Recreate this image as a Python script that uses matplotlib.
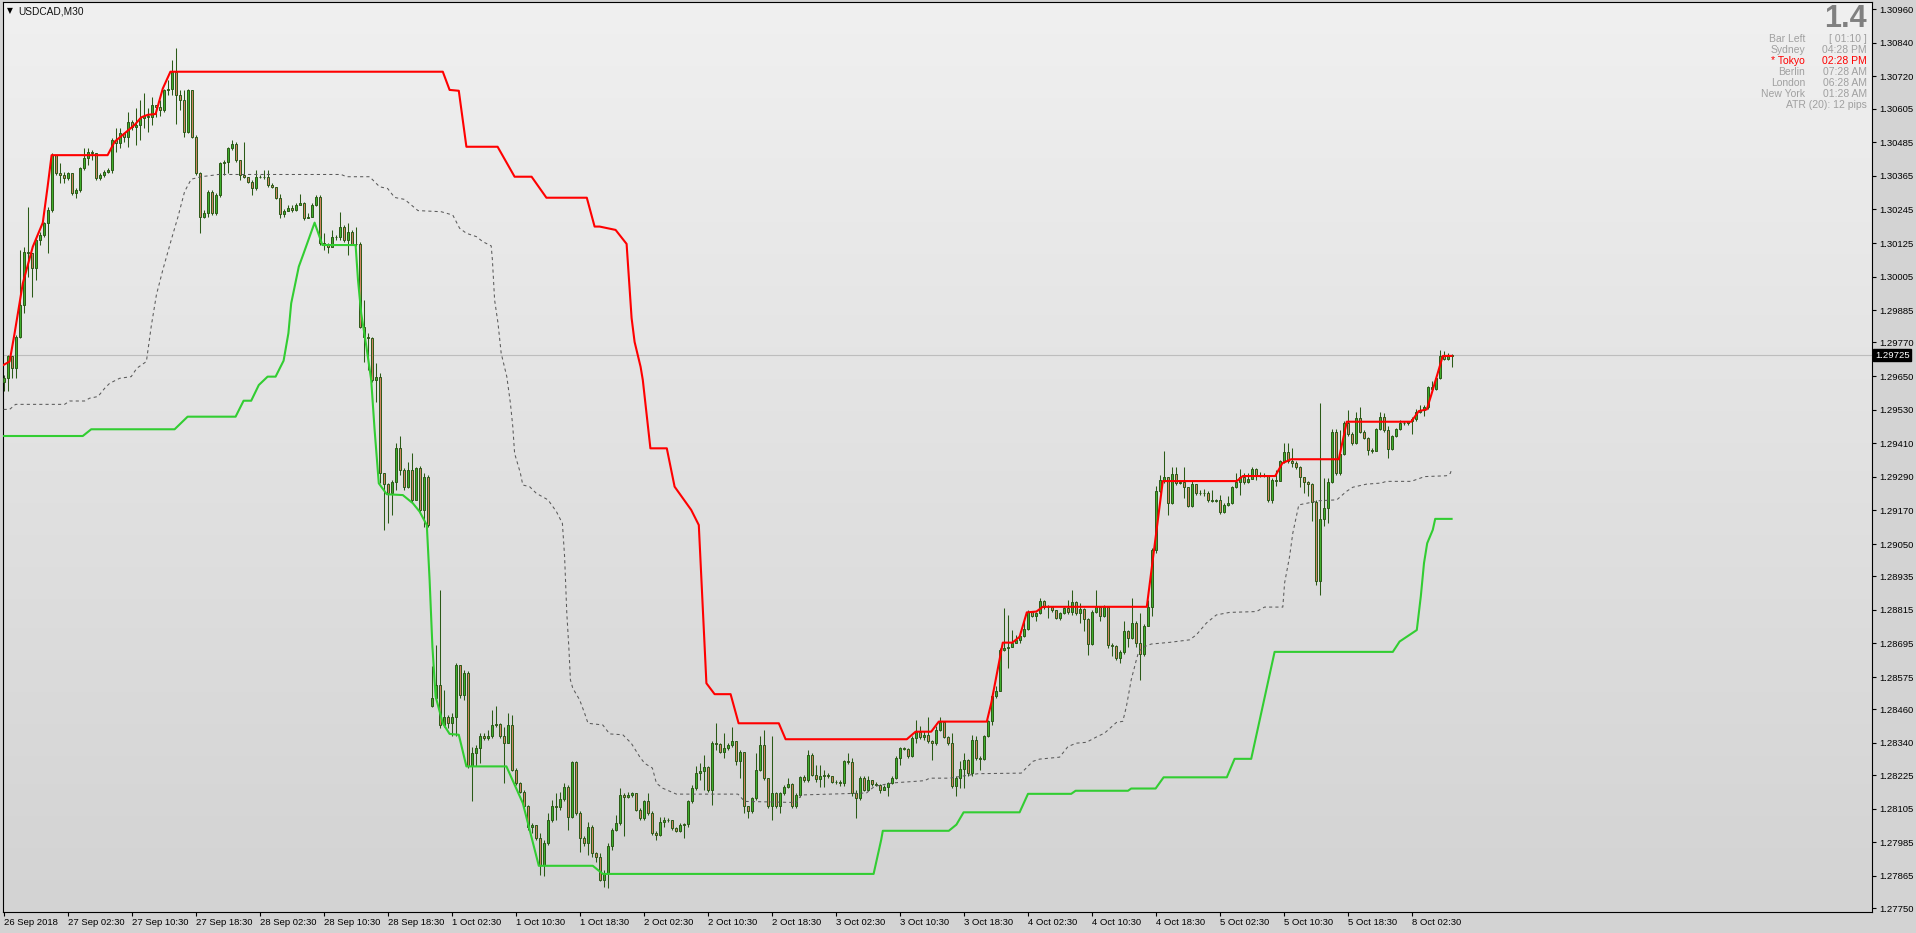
import numpy as np
import matplotlib
matplotlib.use('Agg')
import matplotlib.pyplot as plt
from matplotlib.colors import LinearSegmentedColormap
from matplotlib import transforms

plt.rcParams['font.family'] = ['Liberation Sans', 'DejaVu Sans']

symbol = 'USDCAD,M30'
current_price = 1.29725
first_open = 1.29630
gap_opens = {107: 1.28470}  # monday open after the weekend

closes = [
    1.29642, 1.29720, 1.29678, 1.29791, 1.29904, 1.30094, 1.30088, 1.30035, 1.30136, 1.30154,
    1.30195, 1.30243, 1.30439, 1.30374, 1.30368, 1.30356, 1.30374, 1.30303, 1.30315, 1.30392,
    1.30428, 1.30451, 1.30445, 1.30356, 1.30368, 1.30380, 1.30386, 1.30493, 1.30481, 1.30517,
    1.30503, 1.30558, 1.30538, 1.30547, 1.30570, 1.30579, 1.30576, 1.30618, 1.30612, 1.30600,
    1.30672, 1.30674, 1.30737, 1.30654, 1.30636, 1.30523, 1.30672, 1.30505, 1.30374, 1.30219,
    1.30231, 1.30309, 1.30231, 1.30297, 1.30410, 1.30416, 1.30463, 1.30479, 1.30422, 1.30368,
    1.30362, 1.30344, 1.30320, 1.30362, 1.30360, 1.30362, 1.30332, 1.30326, 1.30285, 1.30229,
    1.30241, 1.30249, 1.30243, 1.30261, 1.30269, 1.30213, 1.30219, 1.30261, 1.30288, 1.30124,
    1.30122, 1.30112, 1.30148, 1.30146, 1.30181, 1.30136, 1.30166, 1.30122, 1.30122, 1.29827,
    1.29791, 1.29785, 1.29636, 1.29648, 1.29303, 1.29265, 1.29231, 1.29273, 1.29392, 1.29315,
    1.29255, 1.29315, 1.29208, 1.29321, 1.29172, 1.29291, 1.29118, 1.28500, 1.28547, 1.28404,
    1.28434, 1.28410, 1.28434, 1.28619, 1.28511, 1.28589, 1.28256, 1.28303, 1.28321, 1.28363,
    1.28357, 1.28365, 1.28404, 1.28407, 1.28363, 1.28341, 1.28404, 1.28244, 1.28196, 1.28166,
    1.28113, 1.28041, 1.28047, 1.27999, 1.27905, 1.27982, 1.28065, 1.28113, 1.28110, 1.28139,
    1.28182, 1.28077, 1.28270, 1.28089, 1.27999, 1.27982, 1.28041, 1.27946, 1.27934, 1.27851,
    1.27875, 1.27970, 1.28030, 1.28053, 1.28154, 1.28148, 1.28154, 1.28160, 1.28101, 1.28071,
    1.28131, 1.28089, 1.28018, 1.28012, 1.28059, 1.28065, 1.28063, 1.28035, 1.28027, 1.28047,
    1.28050, 1.28131, 1.28178, 1.28234, 1.28238, 1.28253, 1.28172, 1.28339, 1.28336, 1.28309,
    1.28321, 1.28333, 1.28348, 1.28274, 1.28309, 1.28113, 1.28095, 1.28143, 1.28244, 1.28333,
    1.28214, 1.28113, 1.28160, 1.28113, 1.28160, 1.28184, 1.28194, 1.28113, 1.28154, 1.28218,
    1.28208, 1.28297, 1.28226, 1.28210, 1.28220, 1.28226, 1.28220, 1.28202, 1.28199, 1.28197,
    1.28274, 1.28270, 1.28161, 1.28143, 1.28214, 1.28173, 1.28206, 1.28194, 1.28190, 1.28173,
    1.28182, 1.28197, 1.28214, 1.28286, 1.28321, 1.28318, 1.28292, 1.28357, 1.28379, 1.28361,
    1.28369, 1.28345, 1.28339, 1.28387, 1.28413, 1.28361, 1.28339, 1.28185, 1.28214, 1.28247,
    1.28280, 1.28232, 1.28351, 1.28286, 1.28282, 1.28363, 1.28417, 1.28506, 1.28527, 1.28673,
    1.28678, 1.28684, 1.28696, 1.28708, 1.28720, 1.28746, 1.28806, 1.28794, 1.28803, 1.28845,
    1.28825, 1.28827, 1.28813, 1.28786, 1.28803, 1.28821, 1.28806, 1.28843, 1.28803, 1.28818,
    1.28782, 1.28694, 1.28809, 1.28825, 1.28792, 1.28827, 1.28690, 1.28687, 1.28643, 1.28663,
    1.28738, 1.28714, 1.28768, 1.28696, 1.28658, 1.28758, 1.28827, 1.29029, 1.29241, 1.29280,
    1.29289, 1.29196, 1.29301, 1.29268, 1.29270, 1.29253, 1.29187, 1.29265, 1.29232, 1.29234,
    1.29233, 1.29206, 1.29205, 1.29206, 1.29163, 1.29190, 1.29196, 1.29253, 1.29273, 1.29289,
    1.29270, 1.29284, 1.29318, 1.29294, 1.29296, 1.29295, 1.29208, 1.29280, 1.29277, 1.29345,
    1.29378, 1.29345, 1.29341, 1.29325, 1.29289, 1.29272, 1.29265, 1.29202, 1.28917, 1.29139,
    1.29178, 1.29270, 1.29452, 1.29303, 1.29372, 1.29482, 1.29444, 1.29410, 1.29500, 1.29452,
    1.29428, 1.29387, 1.29384, 1.29460, 1.29503, 1.29458, 1.29389, 1.29437, 1.29460, 1.29482,
    1.29484, 1.29488, 1.29496, 1.29522, 1.29529, 1.29539, 1.29610, 1.29603, 1.29642, 1.29722,
    1.29710, 1.29722, 1.29725,
]

highs = [
    1.29654, 1.29725, 1.29708, 1.29797, 1.30100, 1.30112, 1.30255, 1.30065, 1.30148, 1.30166,
    1.30201, 1.30255, 1.30445, 1.30439, 1.30410, 1.30380, 1.30380, 1.30374, 1.30320, 1.30398,
    1.30463, 1.30463, 1.30457, 1.30422, 1.30374, 1.30386, 1.30392, 1.30499, 1.30535, 1.30535,
    1.30511, 1.30594, 1.30564, 1.30606, 1.30636, 1.30660, 1.30606, 1.30648, 1.30618, 1.30636,
    1.30677, 1.30707, 1.30779, 1.30820, 1.30672, 1.30672, 1.30677, 1.30672, 1.30511, 1.30380,
    1.30243, 1.30315, 1.30315, 1.30303, 1.30416, 1.30422, 1.30469, 1.30493, 1.30487, 1.30422,
    1.30487, 1.30362, 1.30350, 1.30386, 1.30368, 1.30386, 1.30386, 1.30341, 1.30326, 1.30300,
    1.30245, 1.30261, 1.30261, 1.30267, 1.30300, 1.30273, 1.30231, 1.30267, 1.30297, 1.30297,
    1.30160, 1.30124, 1.30172, 1.30154, 1.30237, 1.30190, 1.30195, 1.30172, 1.30184, 1.30130,
    1.29922, 1.29803, 1.29791, 1.29696, 1.29660, 1.29273, 1.29267, 1.29279, 1.29410, 1.29436,
    1.29321, 1.29344, 1.29374, 1.29327, 1.29329, 1.29303, 1.29297, 1.28613, 1.28690, 1.28886,
    1.28529, 1.28440, 1.28446, 1.28625, 1.28619, 1.28601, 1.28595, 1.28327, 1.28333, 1.28375,
    1.28375, 1.28387, 1.28458, 1.28470, 1.28410, 1.28398, 1.28446, 1.28440, 1.28250, 1.28202,
    1.28172, 1.28119, 1.28053, 1.28030, 1.28018, 1.27994, 1.28089, 1.28137, 1.28160, 1.28166,
    1.28196, 1.28190, 1.28274, 1.28274, 1.28095, 1.28006, 1.28059, 1.28047, 1.27952, 1.27946,
    1.27887, 1.27982, 1.28035, 1.28083, 1.28178, 1.28160, 1.28166, 1.28166, 1.28160, 1.28107,
    1.28137, 1.28160, 1.28095, 1.28024, 1.28077, 1.28077, 1.28071, 1.28065, 1.28041, 1.28053,
    1.28053, 1.28137, 1.28190, 1.28256, 1.28267, 1.28297, 1.28256, 1.28345, 1.28410, 1.28339,
    1.28375, 1.28339, 1.28398, 1.28345, 1.28315, 1.28309, 1.28113, 1.28148, 1.28303, 1.28363,
    1.28387, 1.28214, 1.28363, 1.28166, 1.28166, 1.28190, 1.28214, 1.28196, 1.28160, 1.28222,
    1.28226, 1.28315, 1.28303, 1.28261, 1.28261, 1.28244, 1.28232, 1.28223, 1.28208, 1.28206,
    1.28280, 1.28304, 1.28286, 1.28173, 1.28220, 1.28220, 1.28220, 1.28208, 1.28202, 1.28194,
    1.28190, 1.28202, 1.28223, 1.28292, 1.28327, 1.28325, 1.28321, 1.28363, 1.28423, 1.28399,
    1.28381, 1.28434, 1.28349, 1.28399, 1.28434, 1.28417, 1.28366, 1.28375, 1.28220, 1.28274,
    1.28304, 1.28282, 1.28369, 1.28363, 1.28292, 1.28369, 1.28423, 1.28512, 1.28542, 1.28678,
    1.28821, 1.28797, 1.28744, 1.28726, 1.28738, 1.28774, 1.28815, 1.28809, 1.28809, 1.28857,
    1.28851, 1.28833, 1.28830, 1.28815, 1.28809, 1.28827, 1.28851, 1.28887, 1.28845, 1.28839,
    1.28821, 1.28786, 1.28815, 1.28887, 1.28830, 1.28833, 1.28830, 1.28696, 1.28690, 1.28670,
    1.28774, 1.28744, 1.28857, 1.28774, 1.28803, 1.28765, 1.28851, 1.29035, 1.29256, 1.29297,
    1.29381, 1.29291, 1.29327, 1.29327, 1.29280, 1.29327, 1.29250, 1.29274, 1.29249, 1.29244,
    1.29246, 1.29238, 1.29244, 1.29211, 1.29226, 1.29196, 1.29220, 1.29258, 1.29303, 1.29318,
    1.29303, 1.29303, 1.29325, 1.29321, 1.29309, 1.29303, 1.29296, 1.29286, 1.29315, 1.29351,
    1.29410, 1.29410, 1.29393, 1.29345, 1.29330, 1.29291, 1.29277, 1.29268, 1.29208, 1.29553,
    1.29285, 1.29285, 1.29460, 1.29460, 1.29458, 1.29491, 1.29529, 1.29452, 1.29523, 1.29541,
    1.29458, 1.29434, 1.29393, 1.29464, 1.29520, 1.29518, 1.29470, 1.29440, 1.29464, 1.29494,
    1.29491, 1.29491, 1.29503, 1.29532, 1.29547, 1.29547, 1.29615, 1.29631, 1.29648, 1.29744,
    1.29741, 1.29732, 1.29729,
]

lows = [
    1.29595, 1.29595, 1.29642, 1.29642, 1.29785, 1.29874, 1.30005, 1.29934, 1.29993, 1.30118,
    1.30148, 1.30088, 1.30237, 1.30368, 1.30338, 1.30338, 1.30350, 1.30297, 1.30285, 1.30309,
    1.30386, 1.30404, 1.30422, 1.30350, 1.30350, 1.30362, 1.30374, 1.30374, 1.30451, 1.30463,
    1.30487, 1.30469, 1.30529, 1.30475, 1.30493, 1.30535, 1.30523, 1.30547, 1.30576, 1.30579,
    1.30594, 1.30654, 1.30654, 1.30552, 1.30600, 1.30505, 1.30517, 1.30499, 1.30368, 1.30162,
    1.30213, 1.30219, 1.30225, 1.30225, 1.30291, 1.30368, 1.30374, 1.30457, 1.30416, 1.30350,
    1.30356, 1.30338, 1.30297, 1.30315, 1.30356, 1.30353, 1.30326, 1.30320, 1.30281, 1.30213,
    1.30219, 1.30241, 1.30237, 1.30241, 1.30261, 1.30207, 1.30213, 1.30219, 1.30257, 1.30118,
    1.30100, 1.30088, 1.30112, 1.30136, 1.30136, 1.30130, 1.30082, 1.30118, 1.30115, 1.29821,
    1.29702, 1.29672, 1.29630, 1.29559, 1.29267, 1.29101, 1.29124, 1.29154, 1.29243, 1.29297,
    1.29243, 1.29249, 1.29202, 1.29208, 1.29166, 1.29112, 1.29112, 1.28467, 1.28494, 1.28392,
    1.28398, 1.28392, 1.28363, 1.28365, 1.28500, 1.28494, 1.28250, 1.28131, 1.28256, 1.28267,
    1.28351, 1.28351, 1.28357, 1.28398, 1.28357, 1.28196, 1.28339, 1.28238, 1.28190, 1.28160,
    1.28101, 1.28030, 1.28018, 1.27994, 1.27869, 1.27863, 1.27976, 1.28059, 1.28065, 1.28101,
    1.28131, 1.28030, 1.28071, 1.28083, 1.27952, 1.27970, 1.27940, 1.27934, 1.27916, 1.27845,
    1.27827, 1.27821, 1.27958, 1.28024, 1.28047, 1.28006, 1.28142, 1.28148, 1.28095, 1.28065,
    1.28065, 1.28083, 1.28012, 1.27994, 1.28006, 1.28041, 1.28056, 1.28030, 1.28020, 1.28020,
    1.28000, 1.28041, 1.28125, 1.28172, 1.28208, 1.28172, 1.28166, 1.28119, 1.28315, 1.28303,
    1.28285, 1.28315, 1.28327, 1.28262, 1.28214, 1.28089, 1.28071, 1.28089, 1.28137, 1.28238,
    1.28208, 1.28107, 1.28065, 1.28107, 1.28089, 1.28154, 1.28178, 1.28107, 1.28107, 1.28148,
    1.28202, 1.28202, 1.28220, 1.28202, 1.28184, 1.28184, 1.28214, 1.28197, 1.28194, 1.28187,
    1.28187, 1.28266, 1.28149, 1.28072, 1.28137, 1.28167, 1.28170, 1.28187, 1.28185, 1.28161,
    1.28170, 1.28149, 1.28194, 1.28211, 1.28262, 1.28313, 1.28286, 1.28289, 1.28339, 1.28354,
    1.28351, 1.28339, 1.28280, 1.28333, 1.28381, 1.28357, 1.28333, 1.28179, 1.28149, 1.28179,
    1.28179, 1.28220, 1.28220, 1.28280, 1.28242, 1.28280, 1.28361, 1.28405, 1.28500, 1.28524,
    1.28667, 1.28607, 1.28684, 1.28696, 1.28696, 1.28718, 1.28744, 1.28789, 1.28774, 1.28801,
    1.28818, 1.28786, 1.28806, 1.28782, 1.28780, 1.28801, 1.28801, 1.28797, 1.28797, 1.28768,
    1.28738, 1.28655, 1.28690, 1.28803, 1.28774, 1.28789, 1.28678, 1.28649, 1.28637, 1.28625,
    1.28658, 1.28684, 1.28711, 1.28684, 1.28565, 1.28649, 1.28756, 1.28792, 1.29018, 1.29234,
    1.29268, 1.29155, 1.29194, 1.29262, 1.29265, 1.29214, 1.29182, 1.29182, 1.29226, 1.29226,
    1.29220, 1.29202, 1.29199, 1.29201, 1.29157, 1.29160, 1.29187, 1.29194, 1.29250, 1.29226,
    1.29265, 1.29268, 1.29282, 1.29280, 1.29291, 1.29289, 1.29202, 1.29196, 1.29256, 1.29274,
    1.29341, 1.29339, 1.29325, 1.29318, 1.29253, 1.29234, 1.29220, 1.29131, 1.28905, 1.28869,
    1.29113, 1.29125, 1.29268, 1.29297, 1.29297, 1.29369, 1.29437, 1.29404, 1.29408, 1.29446,
    1.29425, 1.29369, 1.29377, 1.29381, 1.29456, 1.29452, 1.29359, 1.29387, 1.29432, 1.29458,
    1.29476, 1.29476, 1.29444, 1.29491, 1.29518, 1.29508, 1.29532, 1.29595, 1.29601, 1.29639,
    1.29706, 1.29708, 1.29684,
]

# upper band (red), vertices by bar number
red_x = [0, 1.5, 2.75, 4.8, 7.3, 9.8, 11, 12, 26, 27.75, 32.75, 34.4, 36, 38, 39.8, 41.7,
         109.8, 111.5, 113.8, 115.7, 123.5, 127.75, 132, 135.7, 145.8, 147.75, 149, 153,
         155.75, 157, 157.75, 159.25, 159.8, 161.7, 165.8, 167.75, 169.8, 171.9, 173.8, 175.7,
         177.75, 181.75, 183.75, 193.8, 195.5, 225.8, 228, 231.9, 233.8, 245.8, 246.9, 249.8,
         252.2, 254, 255.8, 258.2, 259.8, 285.8, 289.8, 308.3, 309.8, 317.9, 319.7, 321.9,
         333.8, 335.8, 351.9, 353.8, 355.8, 356.9, 359.8, 362]
red_y = [1.29690, 1.29702, 1.29803, 1.29981, 1.30112, 1.30198, 1.30326, 1.30439, 1.30439,
         1.30487, 1.30547, 1.30574, 1.30583, 1.30586, 1.30677, 1.30737, 1.30737, 1.30672,
         1.30669, 1.30469, 1.30469, 1.30362, 1.30362, 1.30287, 1.30287, 1.30184, 1.30184,
         1.30172, 1.30122, 1.29857, 1.29772, 1.29683, 1.29636, 1.29392, 1.29392, 1.29255,
         1.29214, 1.29172, 1.29118, 1.28553, 1.28514, 1.28514, 1.28410, 1.28410, 1.28353,
         1.28353, 1.28380, 1.28380, 1.28416, 1.28416, 1.28481, 1.28698, 1.28698, 1.28719,
         1.28806, 1.28809, 1.28826, 1.28826, 1.29275, 1.29275, 1.29293, 1.29293, 1.29339,
         1.29353, 1.29353, 1.29487, 1.29487, 1.29525, 1.29531, 1.29582, 1.29722, 1.29722]

# lower band (green)
green_x = [0, 19.8, 21.9, 42.75, 46, 58, 60, 61.9, 63.8, 66, 68, 70, 71.2, 71.9, 73.8, 75,
           77.75, 79.7, 88, 88.6, 89.4, 90.7, 91.9, 92.75, 93.8, 95.8, 99.8, 102.3, 104, 105.8,
           106.5, 107.2, 108, 109.8, 111.5, 113.8, 115.7, 125.7, 129.8, 133.8, 147.3, 149.8,
           217.5, 219.4, 219.8, 236.3, 238.2, 240, 254, 256.1, 266.9, 268, 281.1, 281.9, 288,
           290, 305.8, 307.75, 311.9, 317.75, 347.3, 349, 353.3, 354.3, 355.1, 355.9, 357.3,
           357.9, 362]
green_y = [1.29436, 1.29436, 1.29460, 1.29460, 1.29505, 1.29505, 1.29562, 1.29562, 1.29618,
           1.29648, 1.29648, 1.29705, 1.29803, 1.29910, 1.30041, 1.30088, 1.30198, 1.30118,
           1.30118, 1.29993, 1.29874, 1.29755, 1.29636, 1.29458, 1.29267, 1.29228, 1.29225,
           1.29196, 1.29166, 1.29118, 1.28922, 1.28684, 1.28506, 1.28410, 1.28372, 1.28369,
           1.28256, 1.28256, 1.28125, 1.27901, 1.27901, 1.27872, 1.27872, 1.27994, 1.28026,
           1.28026, 1.28048, 1.28092, 1.28092, 1.28158, 1.28158, 1.28169, 1.28169, 1.28177,
           1.28177, 1.28217, 1.28217, 1.28283, 1.28283, 1.28665, 1.28665, 1.28702, 1.28743,
           1.28863, 1.28982, 1.29053, 1.29101, 1.29140, 1.29140]

# dotted middle line
mid_x = [0, 1.5, 3, 15.25, 16.5, 20.25, 21.5, 23.6, 25.25, 26.5, 29, 31.9, 33.3, 35.7, 36.9,
         38.2, 39.8, 41.9, 43.6, 45.25, 46.9, 49.4, 52.75, 53.6, 84.4, 85.7, 91.5, 94, 96,
         97.75, 100.25, 103.6, 109.4, 112.3, 114, 115.7, 118.2, 119.8, 121.9, 122.2, 122.75,
         123.6, 124.4, 125.8, 126.7, 127.3, 127.75, 129.2, 129.8, 131.5, 133.2, 136.1, 138.2,
         139.7, 140.25, 140.8, 141.3, 141.7, 142.3, 144, 145.25, 146.1, 149.8, 151.5, 154.8,
         156.9, 159, 160.25, 162.2, 163.2, 164.8, 168.2, 183.6, 185.25, 198.2, 199.4, 206.5,
         215.7, 217.75, 222.3, 230.25, 231.5, 236.5, 243.6, 254.4, 257.3, 259, 264, 266.1,
         268.2, 270.7, 273.2, 275.25, 278.2, 279.8, 280.7, 281.9, 283.2, 283.8, 285.25, 286.9,
         291.5, 296.5, 298.2, 300.7, 303.2, 306.5, 313.2, 315.25, 319.8, 320.25, 321.5, 322.3,
         323.8, 329, 333.3, 335.7, 337.3, 340.7, 344.4, 345.7, 351.9, 355.25, 360.7, 361.7, 362]
mid_y = [1.29531, 1.29531, 1.29549, 1.29549, 1.29561, 1.29561, 1.29571, 1.29577, 1.29606,
         1.29624, 1.29642, 1.29648, 1.29678, 1.29702, 1.29827, 1.29940, 1.30029, 1.30136,
         1.30219, 1.30309, 1.30353, 1.30362, 1.30368, 1.30370, 1.30370, 1.30362, 1.30362,
         1.30326, 1.30320, 1.30288, 1.30281, 1.30241, 1.30237, 1.30225, 1.30178, 1.30160,
         1.30148, 1.30130, 1.30115, 1.30065, 1.29922, 1.29839, 1.29731, 1.29648, 1.29553,
         1.29469, 1.29374, 1.29303, 1.29261, 1.29255, 1.29231, 1.29208, 1.29166, 1.29124,
         1.29005, 1.28803, 1.28684, 1.28565, 1.28535, 1.28494, 1.28446, 1.28410, 1.28404,
         1.28372, 1.28369, 1.28339, 1.28291, 1.28267, 1.28250, 1.28196, 1.28178, 1.28157,
         1.28157, 1.28131, 1.28127, 1.28154, 1.28157, 1.28161, 1.28185, 1.28197, 1.28205,
         1.28214, 1.28214, 1.28230, 1.28232, 1.28274, 1.28282, 1.28289, 1.28327, 1.28339,
         1.28342, 1.28361, 1.28375, 1.28413, 1.28417, 1.28470, 1.28565, 1.28637, 1.28667,
         1.28684, 1.28693, 1.28699, 1.28708, 1.28726, 1.28768, 1.28797, 1.28806, 1.28809,
         1.28825, 1.28825, 1.28911, 1.29006, 1.29089, 1.29190, 1.29205, 1.29208, 1.29238,
         1.29253, 1.29264, 1.29268, 1.29274, 1.29274, 1.29291, 1.29294, 1.29303, 1.29318]

price_ticks = [1.30960, 1.30840, 1.30720, 1.30605, 1.30485, 1.30365, 1.30245, 1.30125,
               1.30005, 1.29885, 1.29770, 1.29650, 1.29530, 1.29410, 1.29290, 1.29170,
               1.29050, 1.28935, 1.28815, 1.28695, 1.28575, 1.28460, 1.28340, 1.28225,
               1.28105, 1.27985, 1.27865, 1.27750]

time_labels = ['26 Sep 2018', '27 Sep 02:30', '27 Sep 10:30', '27 Sep 18:30', '28 Sep 02:30',
               '28 Sep 10:30', '28 Sep 18:30', '1 Oct 02:30', '1 Oct 10:30', '1 Oct 18:30',
               '2 Oct 02:30', '2 Oct 10:30', '2 Oct 18:30', '3 Oct 02:30', '3 Oct 10:30',
               '3 Oct 18:30', '4 Oct 02:30', '4 Oct 10:30', '4 Oct 18:30', '5 Oct 02:30',
               '5 Oct 10:30', '5 Oct 18:30', '8 Oct 02:30']
label_every = 16

info_rows = [('Bar Left', '[ 01:10 ]'), ('Sydney', '04:28 PM'), ('* Tokyo', '02:28 PM'),
             ('Berlin', '07:28 AM'), ('London', '06:28 AM'), ('New York', '01:28 AM')]
atr_text = 'ATR (20): 12 pips'
spread_text = '1.4'

W, H = 1916, 933
edge = '#2b5a17'
bull = '#3fae2c'
bear = '#cf8360'

opens = [first_open] + closes[:-1]
for k, v in gap_opens.items():
    opens[k] = v
o = np.array(opens)
c = np.array(closes)
h = np.array(highs)
l = np.array(lows)
x = np.arange(len(c))

fig = plt.figure(figsize=(W / 100, H / 100), dpi=100, facecolor='#d3d3d3')
ax = fig.add_axes([3 / W, 21 / H, 1869 / W, 910 / H])

bg = LinearSegmentedColormap.from_list('bg', ['#f0f0f0', '#d3d3d3'])
ax.imshow(np.linspace(0, 1, 256)[:, None], cmap=bg, aspect='auto',
          extent=(0, 1, 0, 1), transform=ax.transAxes, zorder=0)

ax.axhline(current_price, color='#bdbdbd', lw=0.8, zorder=1)

body_lo = np.minimum(o, c)
body_hi = np.maximum(o, c)
ax.vlines(x, np.minimum(l, body_lo), np.maximum(h, body_hi), color=edge, lw=0.75, zorder=2)
ax.bar(x, np.maximum(body_hi - body_lo, 0.000004), bottom=body_lo, width=0.5,
       color=np.where(c >= o, bull, bear), edgecolor=edge, linewidth=0.7, zorder=3)

ax.plot(mid_x, mid_y, color='#5a5a5a', lw=0.75, ls=(0, (3, 3)), zorder=4)
ax.plot(green_x, green_y, color='#32cd32', lw=1.5, zorder=5)
ax.plot(red_x, red_y, color='#ff0000', lw=1.5, zorder=5)

ax.set_xlim(-0.15, 467.1)
ax.set_ylim(1.27736, 1.30986)

for s in ax.spines.values():
    s.set_color('black')
    s.set_linewidth(0.8)

ax.yaxis.tick_right()
ax.set_yticks(price_ticks)
ax.set_yticklabels([f'{p:.5f}' for p in price_ticks])
ax.tick_params(axis='y', direction='out', length=3, width=0.8, pad=2, labelsize=6.8,
               colors='black')

ax.set_xticks(np.arange(len(time_labels)) * label_every)
ax.set_xticklabels(time_labels, ha='left')
ax.tick_params(axis='x', direction='out', length=3, width=0.8, pad=1.5, labelsize=6.8,
               colors='black')

trans = transforms.blended_transform_factory(ax.transAxes, ax.transData)
ax.text(1.0 + 3 / 1869, current_price, f'{current_price:.5f}', transform=trans,
        color='white', fontsize=6.8, va='center', ha='left', zorder=10,
        bbox=dict(boxstyle='square,pad=0.18', facecolor='black', edgecolor='black'))

fig.text(7 / W, 1 - 11 / H, '\u25bc', fontsize=5.5, va='center', family='DejaVu Sans')
fig.text(18 / W, 1 - 11 / H, symbol, fontsize=7.3, va='center', color='#111111')

fig.text(1867 / W, 1 - 19 / H, spread_text, ha='right', va='center', fontsize=22,
         fontweight='bold', color='#808080')
for i, (name, val) in enumerate(info_rows):
    y = 1 - (39 + 11 * i) / H
    col = '#ff0000' if 'Tokyo' in name else '#a0a0a0'
    fig.text(1805 / W, y, name, ha='right', va='center', fontsize=7.5, color=col)
    fig.text(1867 / W, y, val, ha='right', va='center', fontsize=7.5, color=col)
fig.text(1867 / W, 1 - 105 / H, atr_text, ha='right', va='center', fontsize=7.5,
         color='#a0a0a0')

fig.savefig('out.png', dpi=100, facecolor=fig.get_facecolor())
